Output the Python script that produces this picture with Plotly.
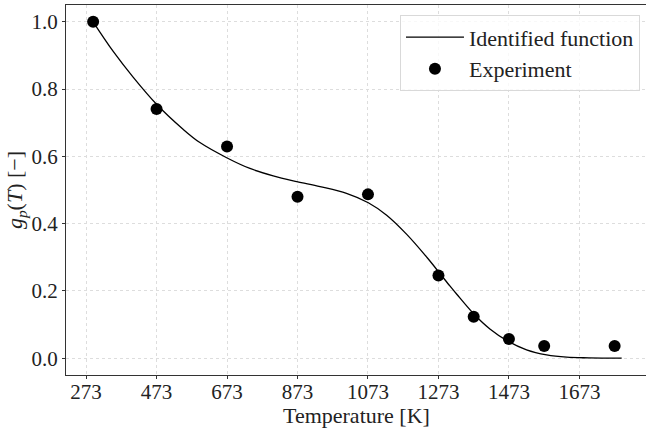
import plotly.graph_objects as go

# Experimental points
exp_T = [293, 473, 673, 873, 1073, 1273, 1373, 1473, 1573, 1773]
exp_g = [1.000, 0.741, 0.629, 0.480, 0.487, 0.246, 0.123, 0.057, 0.036, 0.036]

# Identified function
fit_T = [293, 350, 407, 473, 549, 596, 672, 738, 804, 871, 937, 1012, 1074, 1126,
         1183, 1240, 1277, 1306, 1325, 1372, 1419, 1471, 1523, 1580, 1637, 1700, 1793]
fit_g = [1.000, 0.912, 0.835, 0.755, 0.680, 0.641, 0.596, 0.564, 0.542, 0.525, 0.510,
         0.490, 0.462, 0.425, 0.368, 0.300, 0.252, 0.214, 0.190, 0.133, 0.087, 0.050,
         0.025, 0.010, 0.003, 0.001, 0.0]

x_ticks = [273, 473, 673, 873, 1073, 1273, 1473, 1673]
y_ticks = [0.0, 0.2, 0.4, 0.6, 0.8, 1.0]

FONT = "Liberation Serif"

fig = go.Figure()
fig.add_trace(go.Scatter(x=fit_T, y=fit_g, mode="lines", name="Identified function",
                         line=dict(color="black", width=1.3, shape="spline", smoothing=1.0)))
fig.add_trace(go.Scatter(x=exp_T, y=exp_g, mode="markers", name="Experiment",
                         marker=dict(color="black", size=12)))

fig.update_layout(
    width=646, height=431,
    margin=dict(l=66, r=0, t=5, b=56, autoexpand=False),
    paper_bgcolor="white", plot_bgcolor="white",
    font=dict(family=FONT, size=21, color="#222222"),
    showlegend=True,
    legend=dict(x=0.9896, y=0.972, xanchor="right", yanchor="top",
                itemwidth=58,
                bgcolor="rgba(255,255,255,0.8)", bordercolor="#d9d9d9", borderwidth=1,
                font=dict(family=FONT, size=22, color="#222222")),
    xaxis=dict(range=[216, 1862], tickvals=x_ticks, ticktext=[str(v) for v in x_ticks],
               automargin=False,
               showgrid=True, gridcolor="#dddddd", griddash="dot", gridwidth=1,
               showline=True, linecolor="#333333", linewidth=1, mirror=True,
               ticks="outside", ticklen=3, tickcolor="#333333",
               ticklabelstandoff=-5,
               zeroline=False,
               tickfont=dict(size=21)),
    yaxis=dict(range=[-0.05, 1.05], tickvals=y_ticks, ticktext=[f"{v:.1f}" for v in y_ticks],
               automargin=False,
               showgrid=True, gridcolor="#dddddd", griddash="dot", gridwidth=1,
               showline=True, linecolor="#333333", linewidth=1, mirror=False,
               ticks="outside", ticklen=3, tickcolor="#333333",
               zeroline=False,
               tickfont=dict(size=21),
               title=dict(text="<i>g</i><sub><i>p</i></sub>(<i>T</i>) [\u2212]",
                          font=dict(size=22), standoff=2)),
    annotations=[dict(text="Temperature [K]", xref="paper", yref="paper",
                      x=0.5, y=-0.11, xanchor="center", yanchor="middle",
                      showarrow=False, font=dict(family=FONT, size=22, color="#222222"))],
)

fig.write_html("out.html", config={"displayModeBar": False},
               post_script="document.body.style.margin='0';document.body.style.padding='0';")
